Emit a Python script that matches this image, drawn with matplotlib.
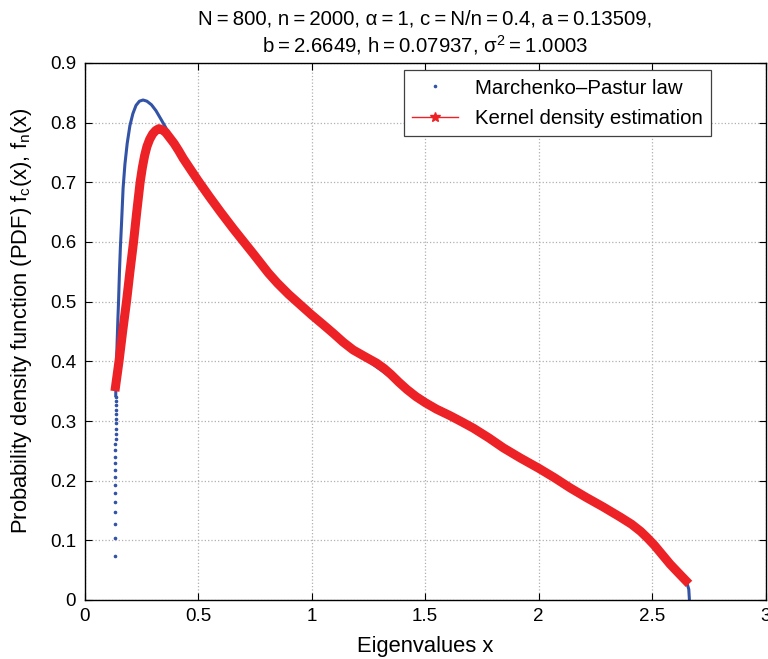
import matplotlib
matplotlib.use("Agg")
import matplotlib.pyplot as plt

plt.rcParams['font.family'] = ['Liberation Sans', 'DejaVu Sans']
plt.rcParams['mathtext.fontset'] = 'custom'
plt.rcParams['mathtext.rm'] = 'Liberation Sans'
plt.rcParams['mathtext.it'] = 'Liberation Sans:italic'

# Marchenko-Pastur law (blue dots): sparse dots near the left edge
edge_x = [0.1350, 0.1352, 0.1354, 0.1356, 0.1357, 0.1358, 0.1359, 0.1360, 0.1361,
          0.1362, 0.1363, 0.1364, 0.1365, 0.1366, 0.1367, 0.1368, 0.1369, 0.1370,
          0.1371, 0.1372, 0.1373, 0.1374, 0.1375]
edge_y = [0.074, 0.104, 0.127, 0.147, 0.164, 0.179, 0.193, 0.206, 0.218, 0.230,
          0.240, 0.251, 0.261, 0.270, 0.279, 0.287, 0.296, 0.303, 0.311, 0.318,
          0.326, 0.333, 0.340]

# Marchenko-Pastur law: dense part (dots merge into a curve)
mp_x = [0.1375, 0.139, 0.141, 0.144, 0.147, 0.150, 0.154, 0.158, 0.163, 0.170,
        0.178, 0.188, 0.200, 0.213, 0.227, 0.242, 0.258, 0.275, 0.295, 0.315,
        0.338, 0.368, 0.40, 0.45, 0.50, 0.60, 0.70, 0.80, 0.90, 1.0, 1.2, 1.4,
        1.6, 1.8, 2.0, 2.2, 2.4, 2.5, 2.6, 2.64, 2.655, 2.662, 2.6649]
mp_y = [0.340, 0.370, 0.400, 0.435, 0.470, 0.500, 0.550, 0.590, 0.630, 0.690,
        0.730, 0.765, 0.795, 0.815, 0.829, 0.836, 0.838, 0.836, 0.830, 0.820,
        0.805, 0.785, 0.765, 0.735, 0.704, 0.648, 0.598, 0.553, 0.513, 0.478,
        0.414, 0.360, 0.312, 0.267, 0.221, 0.176, 0.129, 0.095, 0.052, 0.036,
        0.027, 0.018, 0.0]

# Kernel density estimation (red)
kde_x = [0.134, 0.143, 0.152, 0.168, 0.185, 0.200, 0.216, 0.230, 0.245, 0.255,
         0.265, 0.275, 0.287, 0.300, 0.314, 0.328, 0.342, 0.357, 0.375, 0.395,
         0.415, 0.435, 0.47, 0.50, 0.55, 0.60, 0.656, 0.70, 0.74, 0.773, 0.81,
         0.85, 0.90, 0.95, 1.0, 1.05, 1.096, 1.14, 1.184, 1.235, 1.287, 1.32,
         1.35, 1.385, 1.42, 1.46, 1.5, 1.55, 1.61, 1.66, 1.713, 1.78, 1.845,
         1.92, 2.0, 2.07, 2.139, 2.21, 2.285, 2.36, 2.41, 2.45, 2.48, 2.51,
         2.545, 2.58, 2.62, 2.663]
kde_y = [0.350, 0.375, 0.400, 0.450, 0.500, 0.550, 0.600, 0.650, 0.700, 0.725,
         0.745, 0.760, 0.772, 0.781, 0.787, 0.790, 0.788, 0.784, 0.775, 0.765,
         0.753, 0.740, 0.720, 0.703, 0.676, 0.650, 0.622, 0.601, 0.582, 0.566,
         0.548, 0.531, 0.512, 0.495, 0.478, 0.462, 0.447, 0.432, 0.419, 0.408,
         0.397, 0.388, 0.378, 0.365, 0.353, 0.341, 0.331, 0.320, 0.309, 0.299,
         0.288, 0.272, 0.255, 0.238, 0.221, 0.205, 0.188, 0.172, 0.156, 0.139,
         0.127, 0.115, 0.104, 0.092, 0.076, 0.060, 0.044, 0.027]

x_ticks = [0, 0.5, 1, 1.5, 2, 2.5, 3]
x_tick_labels = ['0', '0.5', '1', '1.5', '2', '2.5', '3']
y_ticks = [0, 0.1, 0.2, 0.3, 0.4, 0.5, 0.6, 0.7, 0.8, 0.9]
y_tick_labels = ['0', '0.1', '0.2', '0.3', '0.4', '0.5', '0.6', '0.7', '0.8', '0.9']

blue = '#3353a6'
red = '#ed2226'
fs_tick = 13.5
fs_title = 14.7
fs_label = 15.8
fs_leg = 14.7

fig = plt.figure(figsize=(7.68, 6.59), dpi=100)
ax = fig.add_axes([84.5 / 768, 59 / 659, 681 / 768, 537 / 659])

ax.plot(mp_x, mp_y, '-', color=blue, lw=2.2, solid_capstyle='butt', zorder=2)
ax.plot(edge_x, edge_y, '.', color=blue, ms=3.2, zorder=2,
        label='Marchenko\u2013Pastur law')
ax.plot(kde_x, kde_y, '-', color=red, lw=6.5, solid_capstyle='butt',
        solid_joinstyle='round', zorder=3)
ax.plot([], [], '-*', color=red, lw=1.0, ms=7, label='Kernel density estimation')

ax.set_xlim(0, 3)
ax.set_ylim(0, 0.9)
ax.set_xticks(x_ticks)
ax.set_xticklabels(x_tick_labels)
ax.set_yticks(y_ticks)
ax.set_yticklabels(y_tick_labels)
ax.tick_params(direction='in', length=5, width=0.8, labelsize=fs_tick, top=True,
               right=True, colors='black', pad=6)
ax.grid(True, linestyle=':', color='#b0b0b0', lw=0.9)
ax.set_axisbelow(True)
for s in ax.spines.values():
    s.set_linewidth(1.0)
    s.set_color('black')

ax.set_xlabel('Eigenvalues x', fontsize=fs_label, labelpad=8)
ax.set_ylabel(r'Probability density function (PDF) f$_\mathrm{c}$(x), f$_\mathrm{n}$(x)',
              fontsize=fs_label)
ax.yaxis.set_label_coords(-0.074, 0.52)
ax.set_title('N\u2009=\u2009800, n\u2009=\u20092000, \u03b1\u2009=\u20091, c\u2009=\u2009N/n\u2009=\u20090.4, a\u2009=\u20090.13509,\n'
             'b\u2009=\u20092.6649, h\u2009=\u20090.07937, $\\mathrm{\u03c3}^{2}$\u2009=\u20091.0003',
             fontsize=fs_title, linespacing=1.2, pad=8)

leg = ax.legend(loc='upper right', bbox_to_anchor=(0.92, 0.987), borderaxespad=0,
                fontsize=fs_leg, handlelength=2.25, handletextpad=0.8, labelspacing=0.55,
                borderpad=0.42, fancybox=False, framealpha=1, edgecolor='#404040',
                markerscale=1.0)
leg.get_frame().set_linewidth(0.9)

fig.savefig('out.png', dpi=100)
